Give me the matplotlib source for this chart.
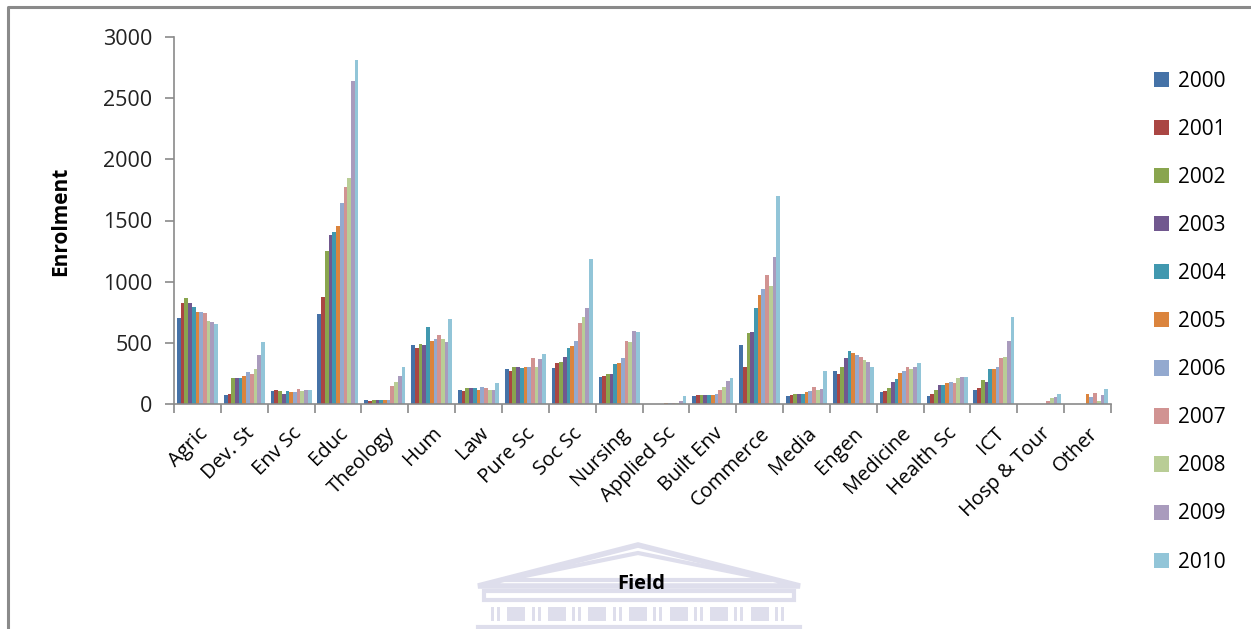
import numpy as np
import matplotlib.pyplot as plt
from matplotlib.patches import Rectangle, Polygon

plt.rcParams['font.family'] = ['Open Sans', 'DejaVu Sans']

fields = ['Agric', 'Dev. St', 'Env Sc', 'Educ', 'Theology', 'Hum', 'Law',
          'Pure Sc', 'Soc Sc', 'Nursing', 'Applied Sc', 'Built Env',
          'Commerce', 'Media', 'Engen', 'Medicine', 'Health Sc', 'ICT',
          'Hosp & Tour', 'Other']
years = ['2000', '2001', '2002', '2003', '2004', '2005', '2006', '2007',
         '2008', '2009', '2010']

# enrolment per field, one list per field (2000 -> 2010)
agric = [704, 826, 870, 826, 796, 755, 755, 745, 682, 671, 652]
dev_st = [74, 85, 210, 210, 210, 229, 262, 243, 284, 401, 505]
env_sc = [106, 117, 106, 85, 106, 95, 95, 125, 106, 115, 115]
educ = [734, 873, 1249, 1385, 1404, 1459, 1647, 1775, 1846, 2643, 2812]
theology = [33, 22, 33, 33, 33, 33, 33, 147, 180, 232, 305]
hum = [483, 461, 494, 483, 630, 515, 535, 567, 535, 505, 693]
law = [117, 106, 128, 128, 128, 117, 139, 128, 117, 117, 169]
pure_sc = [284, 273, 305, 305, 295, 305, 305, 379, 305, 368, 409]
soc_sc = [295, 335, 346, 387, 461, 472, 515, 663, 714, 788, 1184]
nursing = [221, 232, 243, 243, 327, 335, 379, 515, 505, 597, 586]
applied_sc = [0, 0, 0, 0, 0, 11, 11, 11, 11, 22, 63]
built_env = [63, 74, 74, 74, 74, 74, 85, 117, 136, 191, 210]
commerce = [483, 305, 578, 586, 788, 892, 944, 1058, 965, 1205, 1699]
media = [63, 74, 85, 85, 85, 95, 106, 136, 117, 125, 273]
engen = [273, 243, 305, 379, 431, 420, 398, 387, 357, 346, 305]
medicine = [95, 106, 128, 180, 202, 254, 273, 305, 284, 305, 335]
health_sc = [63, 85, 117, 158, 158, 169, 180, 169, 210, 221, 221]
ict = [117, 128, 199, 180, 284, 284, 305, 379, 387, 515, 714]
hosp_tour = [0, 0, 0, 0, 0, 0, 0, 27, 49, 60, 79]
other = [0, 0, 0, 0, 0, 82, 57, 93, 27, 71, 123]

table = np.array([agric, dev_st, env_sc, educ, theology, hum, law, pure_sc,
                  soc_sc, nursing, applied_sc, built_env, commerce, media,
                  engen, medicine, health_sc, ict, hosp_tour, other])

colors = ['#4572A7', '#AA4643', '#89A54E', '#71588F', '#4198AF', '#DB843D',
          '#93A9CF', '#D19392', '#B9CD96', '#A99BBD', '#92C5D8']

W, H = 1251, 629
fig = plt.figure(figsize=(W / 100, H / 100), dpi=100)

# background layer in pixel coords: frame and faint building watermark
bg = fig.add_axes([0, 0, 1, 1], zorder=-1)
bg.set_xlim(0, W)
bg.set_ylim(H, 0)
bg.axis('off')
bg.plot([8, 8, W], [H, 7, 7], color='#8a8a8a', lw=2.2, solid_capstyle='butt')
wm = '#dedeec'
bg.add_patch(Polygon([(478, 586), (638, 545), (800, 586)], closed=True,
                     fill=False, ec=wm, lw=4))
bg.add_patch(Polygon([(505, 580), (638, 553), (772, 580)], closed=True,
                     fill=False, ec=wm, lw=3))
bg.add_patch(Rectangle((484, 591), 310, 9, fc='none', ec=wm, lw=3))
for cx in np.linspace(496, 780, 8):
    bg.add_patch(Rectangle((cx - 5, 607), 3, 14, fc=wm, ec='none'))
    bg.add_patch(Rectangle((cx + 1, 607), 3, 14, fc=wm, ec='none'))
for cx in np.linspace(516, 760, 7):
    bg.add_patch(Rectangle((cx - 9, 607), 18, 14, fc=wm, ec='none'))
bg.plot([478, 800], [627, 627], color=wm, lw=3)

ax = fig.add_axes([174 / W, 1 - 404 / H, (1111 - 174) / W, (404 - 37) / H])

n_f, n_y = table.shape
group = 0.875
bw = group / n_y
x = np.arange(n_f)
for j, yr in enumerate(years):
    ax.bar(x - group / 2 + bw * (j + 0.5), table[:, j], width=bw,
           color=colors[j], label=yr, linewidth=0)

ax.set_xlim(-0.5, n_f - 0.5)
ax.set_ylim(0, 3000)
ax.set_yticks(range(0, 3001, 500))
ax.set_xticks(np.arange(-0.5, n_f, 1.0))
ax.set_xticklabels([])
ax.set_xticks(x, minor=True)
ax.set_xticklabels(fields, minor=True, rotation=45, ha='right',
                   rotation_mode='anchor', fontsize=14.5)
ax.tick_params(axis='x', which='minor', length=0, pad=14)
ax.tick_params(axis='x', which='major', length=6.5, color='#8a8a8a', width=1.2)
ax.tick_params(axis='y', length=6.5, color='#8a8a8a', width=1.2,
               labelsize=15.5, pad=9, labelcolor='#222222')
for s in ['top', 'right']:
    ax.spines[s].set_visible(False)
for s in ['left', 'bottom']:
    ax.spines[s].set_color('#8a8a8a')
    ax.spines[s].set_linewidth(1.2)

fig.text(61 / W, 1 - 221 / H, 'Enrolment', rotation=90, ha='center',
         va='center', fontsize=15, fontweight='bold')
fig.text(641 / W, 1 - 584 / H, 'Field', ha='center', va='center',
         fontsize=14.5, fontweight='bold')

fig.legend(loc='upper left', bbox_to_anchor=(1137 / W, 1 - 54 / H),
           frameon=False, fontsize=15, handlelength=0.75, handleheight=0.75,
           handletextpad=0.4, labelspacing=1.3, borderpad=0.3)

fig.savefig('out.png', dpi=100, facecolor='white')
